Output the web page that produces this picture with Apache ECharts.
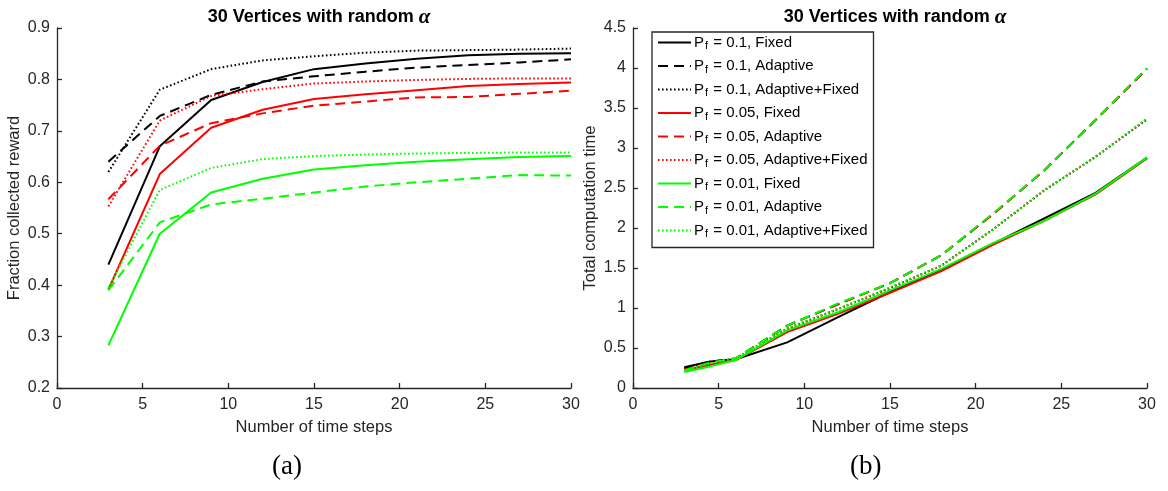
<!DOCTYPE html>
<html>
<head>
<meta charset="utf-8">
<script src="https://cdn.jsdelivr.net/npm/echarts@6.0.0/dist/echarts.min.js"></script>
<style>
  html, body { margin: 0; padding: 0; background: #fff; }
  #chart { width: 1168px; height: 491px; }
</style>
</head>
<body>
<div id="chart"></div>
<script>
// Time-step grids
const rewardSteps = [3, 6, 9, 12, 15, 18, 21, 24, 27, 30];
const timeSteps = [3, 4.5, 6, 9, 12, 15, 18, 21, 24, 27, 30];

// Failure probabilities and planning methods
const pfValues = ['0.1', '0.05', '0.01'];
const methods = ['Fixed', 'Adaptive', 'Adaptive+Fixed'];

// (a) fraction of collected reward
const rewardFixed01      = [0.440, 0.670, 0.760, 0.795, 0.820, 0.831, 0.840, 0.847, 0.850, 0.851];
const rewardAdaptive01   = [0.640, 0.729, 0.770, 0.796, 0.806, 0.815, 0.823, 0.828, 0.833, 0.839];
const rewardAdFix01      = [0.620, 0.780, 0.820, 0.837, 0.845, 0.852, 0.856, 0.857, 0.858, 0.860];
const rewardFixed005     = [0.391, 0.616, 0.706, 0.741, 0.762, 0.771, 0.779, 0.787, 0.791, 0.794];
const rewardAdaptive005  = [0.567, 0.671, 0.715, 0.734, 0.749, 0.757, 0.765, 0.766, 0.772, 0.778];
const rewardAdFix005     = [0.553, 0.720, 0.768, 0.781, 0.792, 0.796, 0.799, 0.801, 0.802, 0.802];
const rewardFixed001     = [0.283, 0.500, 0.580, 0.607, 0.625, 0.633, 0.640, 0.645, 0.649, 0.651];
const rewardAdaptive001  = [0.390, 0.522, 0.557, 0.568, 0.580, 0.592, 0.600, 0.607, 0.614, 0.613];
const rewardAdFix001     = [0.395, 0.585, 0.628, 0.645, 0.651, 0.654, 0.656, 0.657, 0.658, 0.658];

// (b) total computation time
const timeFixed01        = [0.26, 0.33, 0.36, 0.57, 0.89, 1.20, 1.48, 1.80, 2.12, 2.44, 2.88];
const timeAdaptive01     = [0.25, 0.33, 0.37, 0.78, 1.05, 1.31, 1.66, 2.17, 2.72, 3.35, 3.99];
const timeAdFix01        = [0.24, 0.32, 0.37, 0.74, 0.99, 1.25, 1.53, 1.98, 2.47, 2.89, 3.36];
const timeFixed005       = [0.22, 0.29, 0.35, 0.70, 0.93, 1.19, 1.46, 1.79, 2.09, 2.42, 2.87];
const timeAdaptive005    = [0.23, 0.31, 0.37, 0.78, 1.05, 1.31, 1.66, 2.17, 2.72, 3.35, 3.99];
const timeAdFix005       = [0.23, 0.31, 0.36, 0.74, 0.99, 1.25, 1.53, 1.98, 2.47, 2.89, 3.36];
const timeFixed001       = [0.20, 0.27, 0.35, 0.72, 0.95, 1.22, 1.49, 1.81, 2.09, 2.43, 2.88];
const timeAdaptive001    = [0.22, 0.32, 0.37, 0.78, 1.06, 1.31, 1.66, 2.18, 2.72, 3.35, 4.00];
const timeAdFix001       = [0.22, 0.31, 0.37, 0.75, 0.99, 1.26, 1.53, 1.98, 2.47, 2.89, 3.37];

// Axis tick values
const xTicks = [0, 5, 10, 15, 20, 25, 30];
const rewardTicks = ['0.2', '0.3', '0.4', '0.5', '0.6', '0.7', '0.8', '0.9'];
const timeTicks = ['0', '0.5', '1', '1.5', '2', '2.5', '3', '3.5', '4', '4.5'];

const rewardSeries = [
  [rewardFixed01, rewardAdaptive01, rewardAdFix01],
  [rewardFixed005, rewardAdaptive005, rewardAdFix005],
  [rewardFixed001, rewardAdaptive001, rewardAdFix001]
];
const timeSeries = [
  [timeFixed01, timeAdaptive01, timeAdFix01],
  [timeFixed005, timeAdaptive005, timeAdFix005],
  [timeFixed001, timeAdaptive001, timeAdFix001]
];

const colors = ['#000000', '#ff0000', '#00ff00'];
const dashTypes = ['solid', [10, 6], [1.6, 2.4]];
const axisColor = '#262626';
const sans = 'Liberation Sans, Arial, Helvetica, sans-serif';
const serif = 'Liberation Serif, DejaVu Serif, serif';

function seriesName(pf, method) {
  return 'P_f = ' + pf + ', ' + method;
}

function buildSeries(groups, steps, axisIdx) {
  const out = [];
  groups.forEach((group, i) => {
    group.forEach((values, j) => {
      out.push({
        type: 'line',
        name: seriesName(pfValues[i], methods[j]),
        xAxisIndex: axisIdx,
        yAxisIndex: axisIdx,
        data: values.map((v, k) => [steps[k], v]),
        symbol: 'none',
        smooth: false,
        lineStyle: { color: colors[i], width: 2, type: dashTypes[j], cap: 'butt' },
        itemStyle: { color: colors[i] },
        emphasis: { disabled: true },
        z: 2 + i
      });
    });
  });
  return out;
}

function xAxis(gridIndex) {
  return {
    type: 'value', gridIndex, min: 0, max: 30, interval: 5,
    name: 'Number of time steps', nameLocation: 'middle', nameGap: 31,
    nameTextStyle: { fontFamily: sans, fontSize: 16.5, color: axisColor },
    axisLine: { show: true, onZero: false, lineStyle: { color: axisColor, width: 1.3 } },
    axisTick: { show: true, inside: true, length: 5, lineStyle: { color: axisColor, width: 1.3 } },
    axisLabel: { fontFamily: sans, fontSize: 16, color: axisColor, margin: 9,
      formatter: v => xTicks.includes(v) ? String(v) : '' },
    splitLine: { show: false }
  };
}

function yAxis(gridIndex, min, max, interval, ticks, name) {
  return {
    type: 'value', gridIndex, min, max, interval,
    name, nameLocation: 'middle', nameGap: 34,
    nameTextStyle: { fontFamily: sans, fontSize: 16.5, color: axisColor },
    axisLine: { show: true, onZero: false, lineStyle: { color: axisColor, width: 1.3 } },
    axisTick: { show: true, inside: true, length: 5, lineStyle: { color: axisColor, width: 1.3 } },
    axisLabel: { fontFamily: sans, fontSize: 16, color: axisColor, margin: 7,
      formatter: v => ticks[Math.round((v - min) / interval)] },
    splitLine: { show: false }
  };
}

const titleRich = {
  b: { fontFamily: sans, fontWeight: 'bold', fontSize: 18, color: '#000' },
  a: { fontFamily: serif, fontStyle: 'italic', fontSize: 21, color: '#000' }
};

const chart = echarts.init(document.getElementById('chart'), null, { renderer: 'canvas' });

chart.setOption({
  animation: false,
  backgroundColor: '#ffffff',
  title: [
    { text: '{b|30 Vertices with random }{a|α}', left: 314, top: 2, textAlign: 'center',
      textStyle: { rich: titleRich } },
    { text: '{b|30 Vertices with random }{a|α}', left: 890, top: 2, textAlign: 'center',
      textStyle: { rich: titleRich } }
  ],
  grid: [
    { left: 57, top: 28, width: 514, height: 360 },
    { left: 633, top: 28, width: 514, height: 360 }
  ],
  xAxis: [xAxis(0), xAxis(1)],
  yAxis: [
    yAxis(0, 0.2, 0.9, 0.1, rewardTicks, 'Fraction collected reward'),
    yAxis(1, 0, 4.5, 0.5, timeTicks, 'Total computation time')
  ],
  legend: {
    orient: 'vertical',
    left: 652, top: 32,
    padding: [3, 6, 8, 5],
    itemWidth: 33, itemHeight: 18, itemGap: 7,
    borderColor: axisColor, borderWidth: 1.3, backgroundColor: '#ffffff',
    selectedMode: false,
    // line sample only, no marker on it
    itemStyle: { opacity: 0, borderWidth: 0 },
    data: pfValues.flatMap(pf => methods.map(m => seriesName(pf, m))),
    formatter: name => {
      const rest = name.replace('P_f', '');
      return '{p|P}{s|f}{p|' + rest + '}';
    },
    textStyle: {
      padding: [0, 0, 0, -2],
      rich: {
        p: { fontFamily: sans, fontSize: 15, color: '#000', lineHeight: 18 },
        s: { fontFamily: sans, fontSize: 11, color: '#000', lineHeight: 18, verticalAlign: 'bottom', padding: [5, 1, 0, 1] }
      }
    }
  },
  graphic: [
    { type: 'text', left: 272, top: 453,
      style: { text: '(a)', fontFamily: serif, fontSize: 27, fill: '#000' } },
    { type: 'text', left: 850, top: 453,
      style: { text: '(b)', fontFamily: serif, fontSize: 27, fill: '#000' } }
  ],
  series: buildSeries(rewardSeries, rewardSteps, 0).concat(buildSeries(timeSeries, timeSteps, 1))
});
</script>
</body>
</html>
